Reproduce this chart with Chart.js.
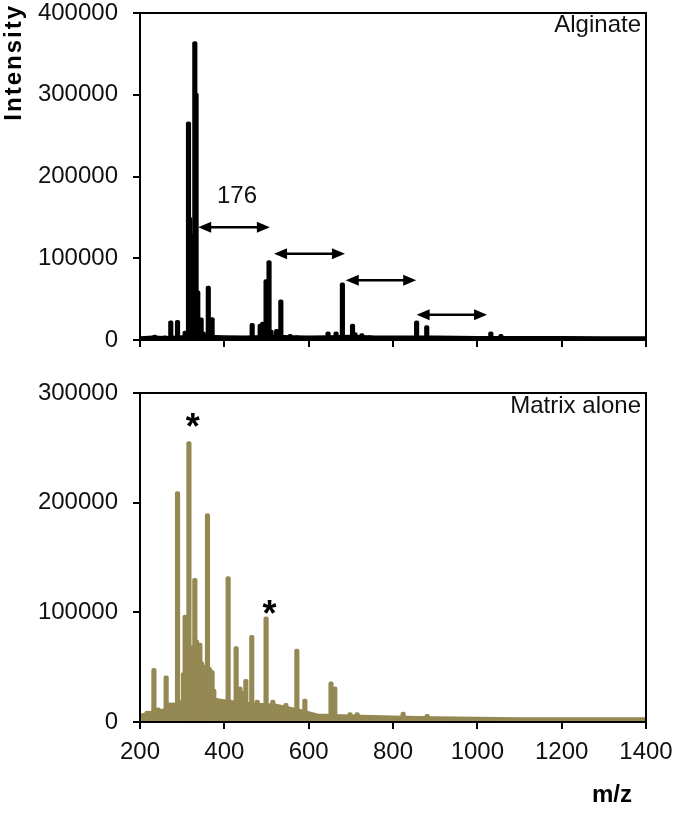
<!DOCTYPE html>
<html>
<head>
<meta charset="utf-8">
<script src="https://cdn.jsdelivr.net/npm/chart.js@4/dist/chart.umd.min.js"></script>
<style>
  html, body { margin: 0; padding: 0; background: #fff; overflow: hidden; }
  #wrap { position: relative; width: 675px; height: 816px; overflow: hidden; }
  .pane { position: absolute; left: 0; width: 686px; }
  /* chart areas: top 13..340, bottom 393..722, x 140..646 */
  #topPane { top: -17px; height: 397px; }
  #botPane { top: 363px; height: 453px; }
</style>
</head>
<body>
<div id="wrap">
  <div class="pane" id="topPane"><canvas id="alginateChart" width="686" height="397"></canvas></div>
  <div class="pane" id="botPane"><canvas id="matrixChart" width="686" height="453"></canvas></div>
</div>
<script>
const FONT = '"Liberation Sans", Arial, Helvetica, sans-serif';
const OLIVE = '#948853';

// axis ticks
const mzTicks = [200, 400, 600, 800, 1000, 1200, 1400];
const alginateYTicks = [0, 100000, 200000, 300000, 400000];
const matrixYTicks = [0, 100000, 200000, 300000];

// Alginate spectrum: peaks (m/z, intensity) and baseline
const alginatePeakMz = [235, 259, 273, 289, 307, 315, 318, 322, 326, 330, 333, 337, 345, 350, 362, 371, 382, 407, 466, 485, 491, 499, 506, 511, 524, 534, 556, 572, 587, 646, 665, 680, 704, 710, 726, 745, 783, 806, 856, 880, 900, 1032, 1056, 1208];
const alginatePeakInt = [6000, 5000, 23500, 24000, 11000, 267000, 150000, 130000, 110000, 365000, 302000, 60000, 27000, 10000, 66000, 27500, 5000, 3500, 20500, 19500, 22000, 74000, 97000, 12000, 13000, 49000, 7000, 5000, 4000, 10000, 10000, 70000, 19500, 9000, 8000, 5000, 3500, 3500, 23500, 17500, 4000, 10000, 7000, 3500];
const alginateBaseMz = [200, 230, 260, 300, 350, 400, 450, 520, 560, 600, 650, 700, 760, 820, 900, 1000, 1100, 1200, 1300, 1400];
const alginateBaseInt = [2000, 3000, 2500, 3500, 4000, 3500, 3000, 4000, 3500, 3000, 3500, 4000, 3000, 3000, 3000, 2500, 2500, 2500, 2000, 2000];

// 176 Da spacing arrows (m/z from, m/z to, intensity level)
const arrowFromMz = [338, 518, 688, 856];
const arrowToMz = [508, 686, 855, 1023];
const arrowLevel = [138000, 105600, 73000, 31000];

// Matrix alone spectrum
const matrixPeakMz = [208, 217, 233, 243, 262, 270, 279, 289, 299, 303, 307, 310, 313, 316, 320, 323, 327, 330, 334, 338, 342, 346, 350, 354, 360, 364, 367, 371, 375, 386, 396, 409, 415, 420, 428, 432, 437, 442, 451, 458, 465, 472, 478, 489, 499, 506, 515, 521, 528, 537, 546, 557, 564, 572, 576, 591, 603, 619, 653, 662, 698, 715, 761, 777, 824, 840, 860, 881, 900, 920, 990, 1162];
const matrixPeakInt = [8000, 10000, 49000, 13000, 42000, 17500, 17500, 210000, 20000, 45000, 97500, 60000, 80000, 255600, 70000, 65000, 60000, 131000, 75000, 60000, 72000, 55000, 52000, 50000, 190000, 50000, 48000, 47000, 30000, 21000, 14500, 132500, 20000, 16000, 68700, 30000, 32000, 28000, 39000, 18000, 79000, 16000, 20000, 17000, 96000, 15000, 20000, 14000, 15000, 13000, 17000, 12000, 9000, 66500, 10000, 21000, 8000, 6000, 36700, 32000, 8500, 8500, 5000, 5000, 9000, 4500, 4500, 7000, 4000, 4000, 3500, 3000];
const matrixBaseMz = [200, 220, 250, 280, 320, 380, 450, 520, 580, 620, 700, 800, 900, 1000, 1100, 1200, 1300, 1400];
const matrixBaseInt = [5000, 8000, 10000, 12000, 18000, 20000, 16000, 15000, 10000, 6000, 5000, 4000, 3500, 3000, 2500, 2500, 2500, 2500];

// asterisks over matrix peaks (m/z, intensity of glyph centre)
const starMz = [325, 507];
const starLevel = [277000, 107000];

const pts = (xs, ys) => xs.map((x, i) => ({ x, y: ys[i] }));

function notesPlugin(cfg) {
  return {
    id: 'notes',
    afterDatasetsDraw(chart) {
      const { ctx, chartArea: a, scales: { x, y } } = chart;
      ctx.save();
      ctx.strokeStyle = '#000';
      ctx.lineWidth = 2;
      ctx.strokeRect(a.left, a.top, a.right - a.left, a.bottom - a.top);

      ctx.fillStyle = '#111';
      ctx.font = cfg.titleSize + 'px ' + FONT;
      ctx.textAlign = 'right';
      ctx.textBaseline = 'middle';
      ctx.fillText(cfg.title, a.right - 5, a.top + cfg.titleDy);

      if (cfg.arrows) {
        ctx.fillStyle = '#000';
        ctx.lineWidth = 2.5;
        arrowFromMz.forEach((m, i) => {
          const x1 = x.getPixelForValue(m), x2 = x.getPixelForValue(arrowToMz[i]);
          const yy = y.getPixelForValue(arrowLevel[i]);
          const hl = 13, hw = 5.5;
          ctx.beginPath();
          ctx.moveTo(x1 + hl - 1, yy); ctx.lineTo(x2 - hl + 1, yy);
          ctx.stroke();
          ctx.beginPath();
          ctx.moveTo(x1, yy); ctx.lineTo(x1 + hl, yy - hw); ctx.lineTo(x1 + hl, yy + hw); ctx.closePath();
          ctx.fill();
          ctx.beginPath();
          ctx.moveTo(x2, yy); ctx.lineTo(x2 - hl, yy - hw); ctx.lineTo(x2 - hl, yy + hw); ctx.closePath();
          ctx.fill();
        });
        ctx.fillStyle = '#111';
        ctx.font = '24px ' + FONT;
        ctx.textAlign = 'center';
        ctx.fillText('176', x.getPixelForValue(430), y.getPixelForValue(175500));
      }

      if (cfg.stars) {
        ctx.fillStyle = '#000';
        ctx.font = 'bold 36px ' + FONT;
        ctx.textAlign = 'center';
        ctx.textBaseline = 'alphabetic';
        starMz.forEach((m, i) => {
          ctx.fillText('*', x.getPixelForValue(m), y.getPixelForValue(starLevel[i]) + 21);
        });
      }

      if (cfg.yTitle) {
        ctx.save();
        ctx.translate(14, cfg.yTitleTop);
        ctx.rotate(-Math.PI / 2);
        ctx.font = 'bold 24px ' + FONT;
        ctx.letterSpacing = '2px';
        ctx.fillStyle = '#000';
        ctx.textAlign = 'right';
        ctx.textBaseline = 'middle';
        ctx.fillText(cfg.yTitle, 0, 0);
        ctx.restore();
      }
      if (cfg.xTitle) {
        ctx.font = 'bold 24px ' + FONT;
        ctx.fillStyle = '#000';
        ctx.textAlign = 'center';
        ctx.textBaseline = 'middle';
        ctx.fillText(cfg.xTitle, 612, cfg.xTitleY);
      }
      ctx.restore();
    }
  };
}

function makeChart(id, color, peaks, base, yTicks, yMax, xLabels, xAxisH, plugin) {
  return new Chart(document.getElementById(id), {
    type: 'bar',
    data: {
      datasets: [
        {
          type: 'line', data: base, borderColor: color, backgroundColor: color,
          borderWidth: 4, pointRadius: 0, tension: 0, fill: 'origin', order: 2,
        },
        {
          type: 'bar', data: peaks, backgroundColor: color, borderWidth: 0,
          barThickness: 4.5, borderRadius: 2, borderSkipped: 'start', order: 1,
        },
      ],
    },
    options: {
      responsive: false, animation: false,
      layout: { padding: { top: 30, right: 40, left: 0, bottom: 0 } },
      plugins: { legend: { display: false }, tooltip: { enabled: false } },
      scales: {
        x: {
          type: 'linear', min: 200, max: 1400, offset: false,
          afterBuildTicks: s => { s.ticks = mzTicks.map(v => ({ value: v })); },
          afterFit: s => { s.height = xAxisH; },
          grid: { offset: false, drawOnChartArea: false, drawTicks: true, tickLength: 7, color: '#000', lineWidth: 2 },
          border: { display: true, color: '#000', width: 2 },
          ticks: { display: xLabels, padding: 9, color: '#111', font: { family: FONT, size: 24 }, callback: v => String(v) },
        },
        y: {
          min: 0, max: yMax,
          afterBuildTicks: s => { s.ticks = yTicks.map(v => ({ value: v })); },
          afterFit: s => { s.width = 140; },
          grid: { drawOnChartArea: false, drawTicks: true, tickLength: 7, color: '#000', lineWidth: 2 },
          border: { display: true, color: '#000', width: 2 },
          ticks: { padding: 15, color: '#111', font: { family: FONT, size: 24 }, callback: v => String(v) },
        },
      },
    },
    plugins: [plugin],
  });
}

makeChart('alginateChart', '#000', pts(alginatePeakMz, alginatePeakInt), pts(alginateBaseMz, alginateBaseInt),
  alginateYTicks, 400000, false, 40,
  notesPlugin({ title: 'Alginate', titleSize: 24, titleDy: 12, arrows: true, yTitle: 'Intensity', yTitleTop: 21 }));

makeChart('matrixChart', OLIVE, pts(matrixPeakMz, matrixPeakInt), pts(matrixBaseMz, matrixBaseInt),
  matrixYTicks, 300000, true, 94,
  notesPlugin({ title: 'Matrix alone', titleSize: 24, titleDy: 13, stars: true, xTitle: 'm/z', xTitleY: 432 }));
</script>
</body>
</html>
